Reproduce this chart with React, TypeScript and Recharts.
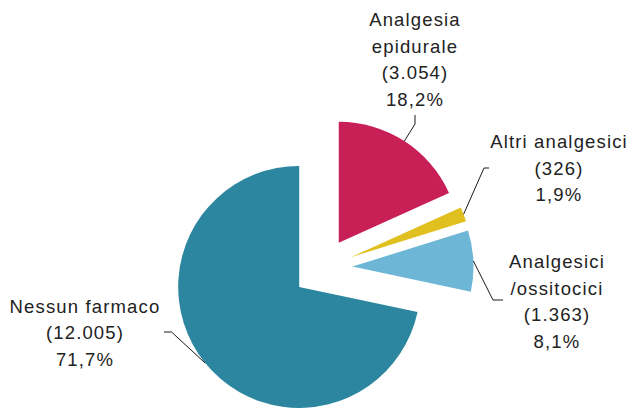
import React from 'react'
import { PieChart, Pie, Cell } from 'recharts'

// Dati: tecniche di controllo del dolore in travaglio
const CATEGORIE = ['Analgesia epidurale', 'Altri analgesici', 'Analgesici /ossitocici', 'Nessun farmaco']
const RIGHE_ETICHETTA = [['Analgesia', 'epidurale'], ['Altri analgesici'], ['Analgesici', '/ossitocici'], ['Nessun farmaco']]
const VALORI = [3054, 326, 1363, 12005]
const COLORI = ['#C81F57', '#DFC01F', '#6EB6D5', '#2C869F']

const TOTALE = VALORI.reduce((a, b) => a + b, 0)
const dati = CATEGORIE.map((nome, i) => ({ nome, valore: VALORI[i] }))

// ─── Layout ────────────────────────────────────────────────────────────────
const W = 629
const H = 409
const CX = 322.5
const CY = 268
const R = 121
const ESPLOSIONE = 30
const RADIAN = Math.PI / 180
const INTERLINEA = 26.7

// posizione testo (centro, prima baseline) e gomito/fine della linea guida
const POS_ETICHETTE = [
  { x: 415, y: 26, gomito: [415, 124], fine: [415, 115] },
  { x: 559, y: 148, gomito: [484, 168], fine: [489, 168] },
  { x: 557, y: 268, gomito: [493, 300], fine: [503, 300] },
  { x: 85, y: 312.5, gomito: [171.5, 332], fine: [164, 332] },
]

function numeroIt(v: number): string {
  return String(v).replace(/\B(?=(\d{3})+(?!\d))/g, '.')
}

function angoloMedio(i: number): number {
  const prima = VALORI.slice(0, i).reduce((a, b) => a + b, 0)
  return 90 - (360 * (prima + VALORI[i] / 2)) / TOTALE
}

function etichetta(indice: number) {
  // eslint-disable-next-line @typescript-eslint/no-explicit-any
  return (props: any) => {
    if (props.index !== indice) return <g />
    const p = POS_ETICHETTE[indice]
    const sx = props.cx + props.outerRadius * Math.cos(-props.midAngle * RADIAN)
    const sy = props.cy + props.outerRadius * Math.sin(-props.midAngle * RADIAN)
    const perc = ((VALORI[indice] / TOTALE) * 100).toFixed(1).replace('.', ',') + '%'
    const righe = [...RIGHE_ETICHETTA[indice], `(${numeroIt(VALORI[indice])})`, perc]
    return (
      <g>
        <polyline
          points={`${sx},${sy} ${p.gomito[0]},${p.gomito[1]} ${p.fine[0]},${p.fine[1]}`}
          fill="none"
          stroke="#1a1a1a"
          strokeWidth={1}
        />
        <text
          x={p.x}
          y={p.y}
          textAnchor="middle"
          fill="#222"
          fontSize={18.5}
          letterSpacing={1.15}
          fontFamily="'Liberation Sans', Arial, sans-serif"
        >
          {righe.map((r, k) => (
            <tspan key={k} x={p.x} y={p.y + k * INTERLINEA}>
              {r}
            </tspan>
          ))}
        </text>
      </g>
    )
  }
}

export default function App() {
  return (
    <div style={{ position: 'absolute', left: 0, top: 0, width: W, height: H, background: '#fff' }}>
      <PieChart width={W} height={H} margin={{ top: 0, right: 0, bottom: 0, left: 0 }}>
        {dati.map((_, i) => {
          const m = angoloMedio(i) * RADIAN
          return (
            <Pie
              key={i}
              data={dati}
              dataKey="valore"
              nameKey="nome"
              cx={CX + ESPLOSIONE * Math.cos(m)}
              cy={CY - ESPLOSIONE * Math.sin(m)}
              innerRadius={0}
              outerRadius={R}
              startAngle={90}
              endAngle={-270}
              stroke="none"
              labelLine={false}
              label={etichetta(i)}
              isAnimationActive={false}
            >
              {dati.map((d, j) => (
                <Cell key={d.nome} fill={j === i ? COLORI[j] : 'none'} stroke="none" />
              ))}
            </Pie>
          )
        })}
      </PieChart>
    </div>
  )
}
